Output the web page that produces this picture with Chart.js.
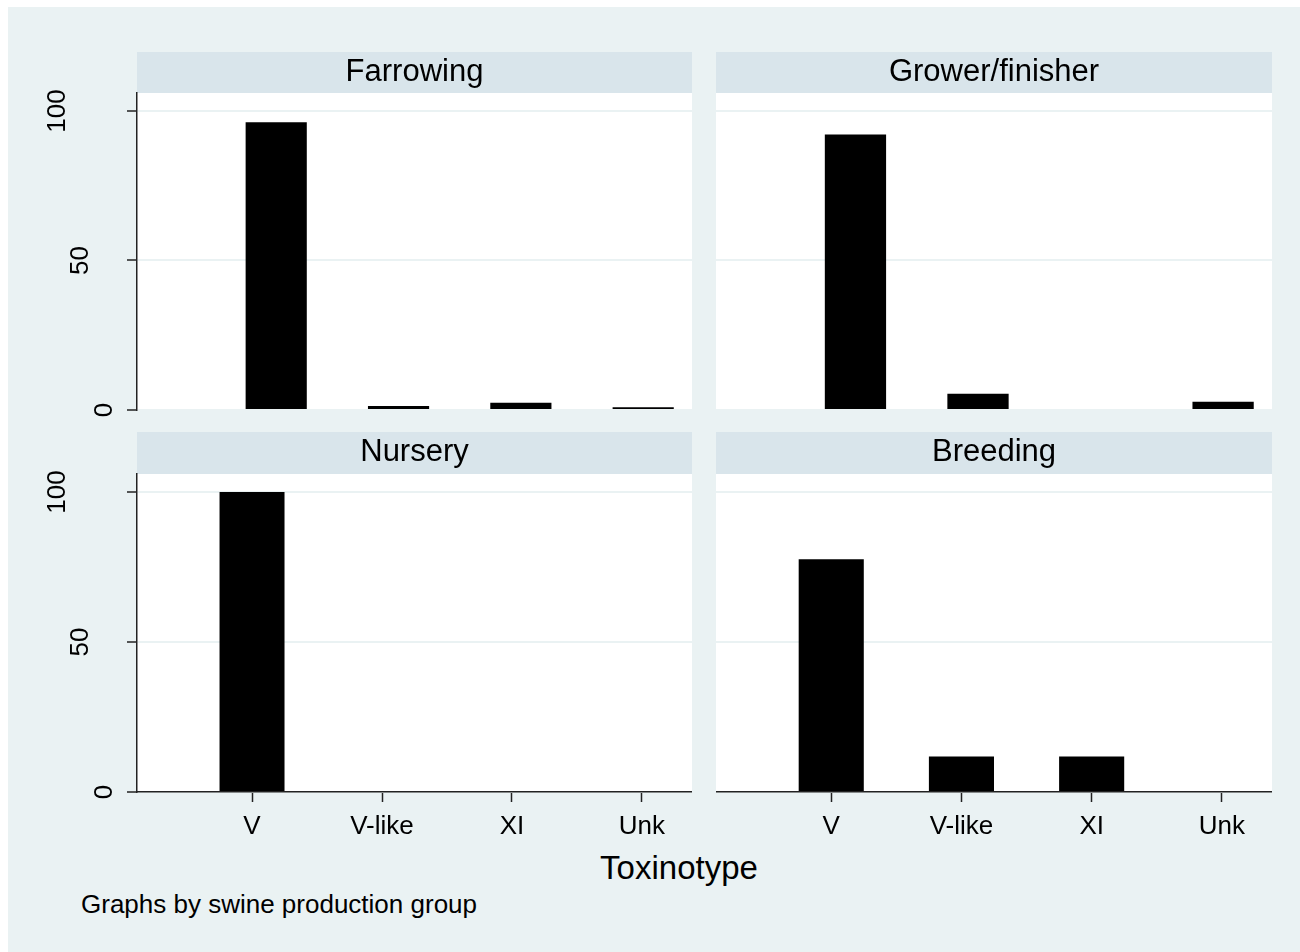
<!DOCTYPE html>
<html>
<head>
<meta charset="utf-8">
<title>Toxinotype by swine production group</title>
<script src="https://cdn.jsdelivr.net/npm/chart.js@4.4.1/dist/chart.umd.min.js"></script>
<style>
  body { margin: 0; background: #ffffff; font-family: "Liberation Sans", Arial, sans-serif; }
  #graphregion { position: absolute; left: 8px; top: 7px; width: 1292px; height: 945px; background: #eaf2f3; }
  canvas { position: absolute; }
  .txt { position: absolute; color: #000; line-height: 1; white-space: nowrap; }
</style>
</head>
<body>
<div id="graphregion"></div>
<canvas id="farrowing-area" width="672" height="378" style="left:20px;top:52px;width:672px;height:378px"></canvas>
<canvas id="grower-area" width="556" height="378" style="left:716px;top:52px;width:556px;height:378px"></canvas>
<canvas id="nursery-area" width="672" height="415" style="left:20px;top:432px;width:672px;height:415px"></canvas>
<canvas id="breeding-area" width="556" height="415" style="left:716px;top:432px;width:556px;height:415px"></canvas>
<div class="txt" style="left:0;width:1358px;text-align:center;top:851px;font-size:33px">Toxinotype</div>
<div class="txt" style="left:81px;top:891px;font-size:26px">Graphs by swine production group</div>
<script>
//////////////////
// data (percent of isolates per toxinotype)

var toxinotypes = ["V", "V-like", "XI", "Unk"];
var farrowingData = [96.2, 1.3, 2.4, 0.9];
var growerData = [92.1, 5.4, 0, 2.8];
var nurseryData = [100, 0, 0, 0];
var breedingData = [77.6, 11.8, 11.8, 0];
var yTickValues = [0, 50, 100];

var stripColor = "#d9e5eb";
var lineColor = "#222222";
var gridColor = "#eaf2f3";

Chart.defaults.font.family = '"Liberation Sans", Arial, sans-serif';
Chart.defaults.color = "#000";

// white plot region + by() strip behind the panel title
var panelBackground = {
  id: 'panelBackground',
  beforeDraw: function(chart) {
    var ctx = chart.ctx, a = chart.chartArea, t = chart.titleBlock;
    ctx.save();
    ctx.fillStyle = "#ffffff";
    ctx.fillRect(a.left, a.top, a.right - a.left, a.bottom - a.top);
    ctx.fillStyle = stripColor;
    ctx.fillRect(a.left, t.top, a.right - a.left, t.height);
    ctx.restore();
  }
};

function makePanel(canvasId, title, values, isLeft, isBottom) {
  // top row bars are spaced a bit tighter than the bottom row (as in the original)
  var xMin = isBottom ? -0.885 : -1.138;
  var xMax = isBottom ? 3.385 : 3.399;

  var config = {
    type: 'bar',
    data: {
      datasets: [{
        data: values.map(function(v, i) { return {x: i, y: v}; }),
        backgroundColor: "#000000",
        borderWidth: 0,
        inflateAmount: 0,
        categoryPercentage: 1,
        barPercentage: 0.5
      }]
    },
    options: {
      responsive: false,
      animation: false,
      layout: { padding: 0 },
      plugins: {
        legend: { display: false },
        tooltip: { enabled: false },
        title: {
          display: true,
          text: title,
          fullSize: false,
          color: "#000",
          font: { size: 31, weight: 'normal', lineHeight: '37px' },
          padding: { top: 2, bottom: isBottom ? 3 : 2 }
        }
      },
      scales: {
        x: {
          type: 'linear',
          min: xMin,
          max: xMax,
          offset: false,
          afterBuildTicks: function(scale) {
            scale.ticks = toxinotypes.map(function(c, i) { return {value: i}; });
          },
          afterFit: function(scale) {
            scale.height = isBottom ? 55 : 20;
            scale.paddingLeft = 0;
            scale.paddingRight = 0;
          },
          border: { display: isBottom, color: lineColor, width: 1.5 },
          grid: {
            display: isBottom,
            offset: false,
            drawOnChartArea: false,
            tickLength: 10,
            tickColor: lineColor,
            tickWidth: 1.5
          },
          ticks: {
            display: isBottom,
            maxRotation: 0,
            autoSkip: false,
            padding: 9,
            font: { size: 26 },
            callback: function(value) { return toxinotypes[value]; }
          }
        },
        y: {
          min: 0,
          max: 106,
          afterBuildTicks: function(scale) {
            scale.ticks = yTickValues.map(function(v) { return {value: v}; });
          },
          afterFit: function(scale) {
            scale.width = isLeft ? 117 : 0;
            // rotated labels must not push the plot region around
            scale.paddingTop = 0;
            scale.paddingBottom = 0;
          },
          border: { display: isLeft, color: lineColor, width: 1.5 },
          grid: {
            color: gridColor,
            lineWidth: 2,
            drawTicks: isLeft,
            tickLength: 10,
            tickColor: lineColor,
            tickWidth: 1.5
          },
          ticks: {
            display: isLeft,
            minRotation: 90,
            maxRotation: 90,
            crossAlign: 'center',
            padding: 24,
            font: { size: 26, lineHeight: 0.9 },
            // stagger like the exported Stata labels: longer labels sit further left
            callback: function(value) {
              var lines = ["", "", ""];
              lines[yTickValues.length - 1 - yTickValues.indexOf(value)] = String(value);
              return lines;
            }
          }
        }
      }
    },
    plugins: [panelBackground]
  };

  var ctx = document.getElementById(canvasId).getContext('2d');
  return new Chart(ctx, config);
}

var chartFarrowing = makePanel('farrowing-area', 'Farrowing', farrowingData, true, false);
var chartGrower = makePanel('grower-area', 'Grower/finisher', growerData, false, false);
var chartNursery = makePanel('nursery-area', 'Nursery', nurseryData, true, true);
var chartBreeding = makePanel('breeding-area', 'Breeding', breedingData, false, true);
</script>
</body>
</html>
